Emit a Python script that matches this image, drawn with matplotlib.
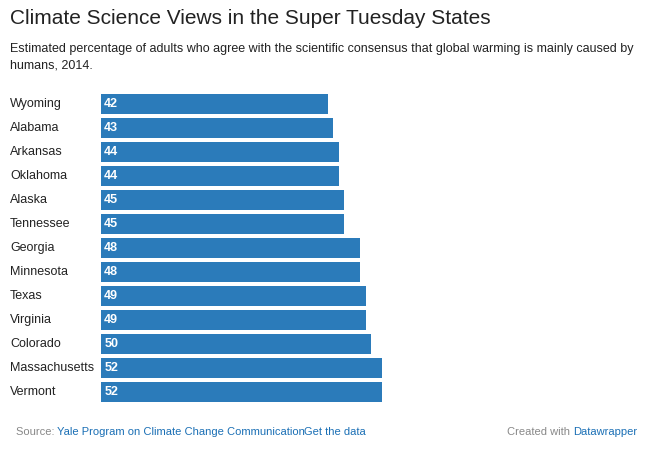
import matplotlib.pyplot as plt

states = ["Wyoming", "Alabama", "Arkansas", "Oklahoma", "Alaska", "Tennessee",
          "Georgia", "Minnesota", "Texas", "Virginia", "Colorado",
          "Massachusetts", "Vermont"]
values = [42, 43, 44, 44, 45, 45, 48, 48, 49, 49, 50, 52, 52]

W, H = 653, 457
fig = plt.figure(figsize=(W / 100, H / 100), dpi=100)
plt.rcParams['font.family'] = ['Liberation Sans', 'DejaVu Sans']

# axes placed so bars run from x=101px, rows centred from y=104 to y=392
ax = fig.add_axes([101 / W, 1 - 404 / H, (382 - 101) / W, 312 / H])
y = list(range(len(states)))
ax.barh(y, values, height=0.8, color="#2b7bba")
ax.set_xlim(0, 52)
ax.set_ylim(len(states) - 0.5, -0.5)
ax.axis("off")

for i, (s, v) in enumerate(zip(states, values)):
    ax.text(0.6, i, str(v), color="white", fontweight="bold", fontsize=9,
            va="center", ha="left")
    fig.text(10 / W, 1 - (104 + 24 * i) / H, s, fontsize=9, va="center",
             ha="left", color="#222222")

fig.text(10 / W, 1 - 18 / H, "Climate Science Views in the Super Tuesday States",
         fontsize=15, va="center", color="#222222")
fig.text(10 / W, 1 - 57 / H,
         "Estimated percentage of adults who agree with the scientific consensus that global warming is mainly caused by\nhumans, 2014.",
         fontsize=9, va="center", linespacing=1.5, color="#222222")

fy = 1 - 432 / H
t1 = fig.text(16 / W, fy, "Source: ", fontsize=8, color="#888888", va="center")
fig.text(57 / W, fy, "Yale Program on Climate Change Communication", fontsize=8,
         color="#1a6fb5", va="center")
fig.text(304 / W, fy, "Get the data", fontsize=8, color="#1a6fb5", va="center")
fig.text(573 / W, fy, "Created with ", fontsize=8, color="#888888", va="center", ha="right")
fig.text(573 / W, fy, "Datawrapper", fontsize=8, color="#1a6fb5", va="center", ha="left")

fig.savefig("out.png", dpi=100)
